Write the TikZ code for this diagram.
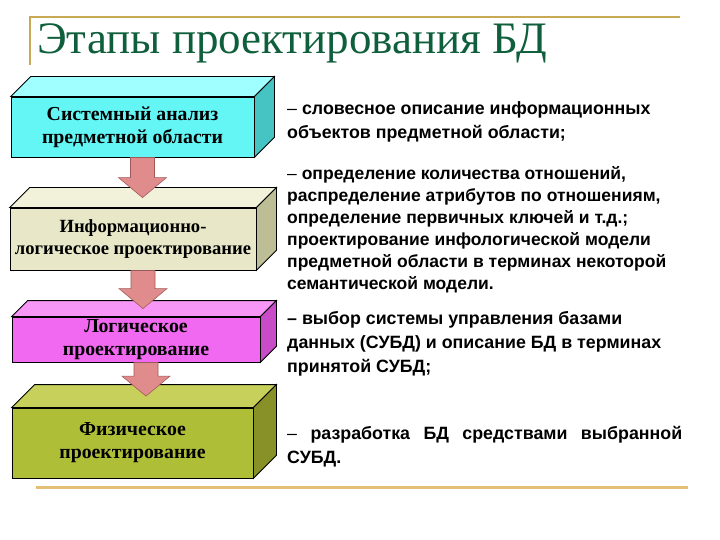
\documentclass[tikz,border=0pt]{standalone}
\usepackage{fontspec}
\setmainfont{Liberation Serif}
\newfontfamily\descfont{Liberation Sans}
\usetikzlibrary{calc}
\definecolor{titlegreen}{RGB}{15,95,60}
\definecolor{rulegold}{RGB}{200,170,85}
\definecolor{rulelight}{RGB}{228,192,118}
\definecolor{cyanfront}{RGB}{100,245,245}
\definecolor{cyantop}{RGB}{160,255,255}
\definecolor{cyanside}{RGB}{70,195,195}
\definecolor{beigefront}{RGB}{232,232,200}
\definecolor{beigetop}{RGB}{242,242,218}
\definecolor{beigeside}{RGB}{190,190,150}
\definecolor{magentafront}{RGB}{240,105,240}
\definecolor{magentatop}{RGB}{248,150,248}
\definecolor{magentaside}{RGB}{200,75,200}
\definecolor{olivefront}{RGB}{175,190,55}
\definecolor{olivetop}{RGB}{198,208,90}
\definecolor{oliveside}{RGB}{135,145,40}
\definecolor{arrowpink}{RGB}{225,140,140}
\definecolor{arrowline}{RGB}{160,90,90}

\begin{document}
\begin{tikzpicture}[
    x=1pt, y=-1pt,
    front/.style={draw=black, line width=0.8pt, inner sep=0pt, align=center, font=\fontsize{19.8}{23}\selectfont\bfseries},
    face/.style={draw=black, line width=0.8pt},
    desc/.style={anchor=north west, inner sep=0pt, align=left, font=\descfont\fontsize{17.8}{24.3}\selectfont\bfseries},
    stagearrow/.style={fill=arrowpink, draw=arrowline, line width=0.6pt}
]
\useasboundingbox (0,0) rectangle (720,540);
\fill[white] (0,0) rectangle (720,540);

% Title and rules
\draw[rulegold, line width=2.5pt] (30,65) -- (30,17) -- (680,17);
\node[anchor=base west, inner sep=0pt, text=titlegreen, font=\fontsize{45}{45}\selectfont] (title) at (37,54) {Этапы проектирования БД};
\draw[rulelight, line width=3pt] (36,487) -- (688,487);

% Stage boxes (front faces)
\node[front, fill=cyanfront, minimum width=243pt, minimum height=60pt] (b1) at (132.5,127) {Системный анализ\\предметной области};
\node[front, fill=beigefront, minimum width=246pt, minimum height=62pt, font=\fontsize{18.6}{22}\selectfont\bfseries] (b2) at (133,239) {Информационно-\\логическое проектирование};
\node[front, fill=magentafront, minimum width=248pt, minimum height=45pt] (b3) at (136,339.5) {Логическое\\проектирование};
\node[front, fill=olivefront, minimum width=241pt, minimum height=70pt] (b4) at (132.5,443) {Физическое\\проектирование};

% Top and side faces
\foreach \b/\d/\col in {b1/20/cyan, b2/20/beige, b3/16/magenta, b4/23/olive}{
  \draw[face, fill=\col top] (\b.north west) -- ++(\d,-\d) -- ($(\b.north east)+(\d,-\d)$) -- (\b.north east) -- cycle;
  \draw[face, fill=\col side] (\b.north east) -- ++(\d,-\d) -- ($(\b.south east)+(\d,-\d)$) -- (\b.south east) -- cycle;
}

% Arrows between stages
\foreach \a/\b/\d in {b1/b2/20, b2/b3/16, b3/b4/23}{
  \coordinate (s) at ($(\a.south)+(10,0)$);
  \coordinate (n) at ($(\b.north)+(0,-\d/2)$);
  \coordinate (t) at (s |- n);
  \draw[stagearrow] ($(s)+(-12,0)$) -- ($(t)+(-12,-20)$) -- ($(t)+(-24,-20)$) -- (t)
    -- ($(t)+(24,-20)$) -- ($(t)+(12,-20)$) -- ($(s)+(12,0)$) -- cycle;
}

% Descriptions
\node[desc] (d1) at (287,101) {{\mdseries –} словесное описание информационных\\объектов предметной области;};
\node[desc, font=\descfont\fontsize{17.5}{22}\selectfont\bfseries] (d2) at (287,166) {{\mdseries –} определение количества отношений,\\распределение атрибутов по отношениям,\\определение первичных ключей и т.д.;\\проектирование инфологической модели\\предметной области в терминах некоторой\\семантической модели.};
\node[desc] (d3) at (287,311) {– выбор системы управления базами\\данных (СУБД) и описание БД в терминах\\принятой СУБД;};
\node[desc] (d4) at (287,426) {\makebox[395pt][s]{{\mdseries –} разработка БД средствами выбранной}\\СУБД.};
\end{tikzpicture}
\end{document}
